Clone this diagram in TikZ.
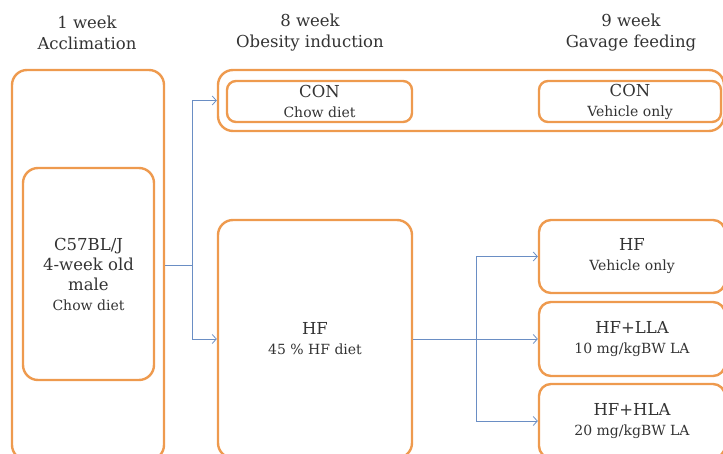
\documentclass[tikz,border=0pt]{standalone}
\usepackage{fontspec}
\setmainfont{DejaVu Serif}
\usepackage{tikz}
\usetikzlibrary{arrows.meta}

\definecolor{boxorange}{HTML}{EE9A4E}
\definecolor{flowblue}{HTML}{6A8EC4}
\newcommand{\subtxt}[1]{{\fontsize{14}{19}\selectfont #1}}

\tikzset{
  box/.style={draw=boxorange, line width=2.4pt, rounded corners=15pt,
    align=center, inner sep=0pt, text=black!80, font=\fontsize{16.5}{20}\selectfont},
  flow/.style={-{Straight Barb[length=4pt, width=9pt, line width=0.8pt]}, draw=flowblue, line width=0.8pt},
  title/.style={align=center, font=\fontsize{16.5}{21}\selectfont, text=black!80}
}

\begin{document}
\begin{tikzpicture}[x=1pt, y=-1pt]
    \useasboundingbox (0,0) rectangle (723,454);
    \clip (0,0) rectangle (723,454);

    % stage titles
    \node[title] (t1) at (87,33) {1 week\\Acclimation};
    \node[title] (t2) at (310,33) {8 week\\Obesity induction};
    \node[title] (t3) at (631,33) {9 week\\Gavage feeding};

    % acclimation
    \node[box, minimum width=152pt, minimum height=390pt] (acc) at (88,265) {};
    \node[box, minimum width=131pt, minimum height=212pt] (mice) at (88.5,274)
        {C57BL/J\\4-week old\\male\\\subtxt{Chow diet}};

    % obesity induction
    \node[box, minimum width=506pt, minimum height=61pt] (congrp) at (471,100.5) {};
    \node[box, minimum width=185pt, minimum height=41pt, rounded corners=9pt] (conchow) at (319.5,101.5)
        {CON\\\subtxt{Chow diet}};
    \node[box, minimum width=194pt, minimum height=238pt] (hf) at (315,339)
        {HF\\\subtxt{45 \% HF diet}};

    % gavage feeding
    \node[box, minimum width=182pt, minimum height=41pt, rounded corners=9pt] (conveh) at (630,101.5)
        {CON\\\subtxt{Vehicle only}};
    \node[box, minimum width=186pt, minimum height=73pt, rounded corners=12pt] (hfveh) at (632,256.5)
        {HF\\\subtxt{Vehicle only}};
    \node[box, minimum width=186pt, minimum height=74pt, rounded corners=12pt] (hflla) at (632,339)
        {HF+LLA\\\subtxt{10 mg/kgBW LA}};
    \node[box, minimum width=186pt, minimum height=74pt, rounded corners=12pt] (hfhla) at (632,421)
        {HF+HLA\\\subtxt{20 mg/kgBW LA}};

    % connectors
    \draw[flow] (acc.east) -- ++(27,0) |- (congrp.west);
    \draw[flow] (acc.east) -- ++(27,0) |- (hf.west);
    \draw[flow] (hf.east) -- ++(63,0) |- (hfveh.west);
    \draw[flow] (hf.east) -- (hflla.west);
    \draw[flow] (hf.east) -- ++(63,0) |- (hfhla.west);
\end{tikzpicture}
\end{document}
